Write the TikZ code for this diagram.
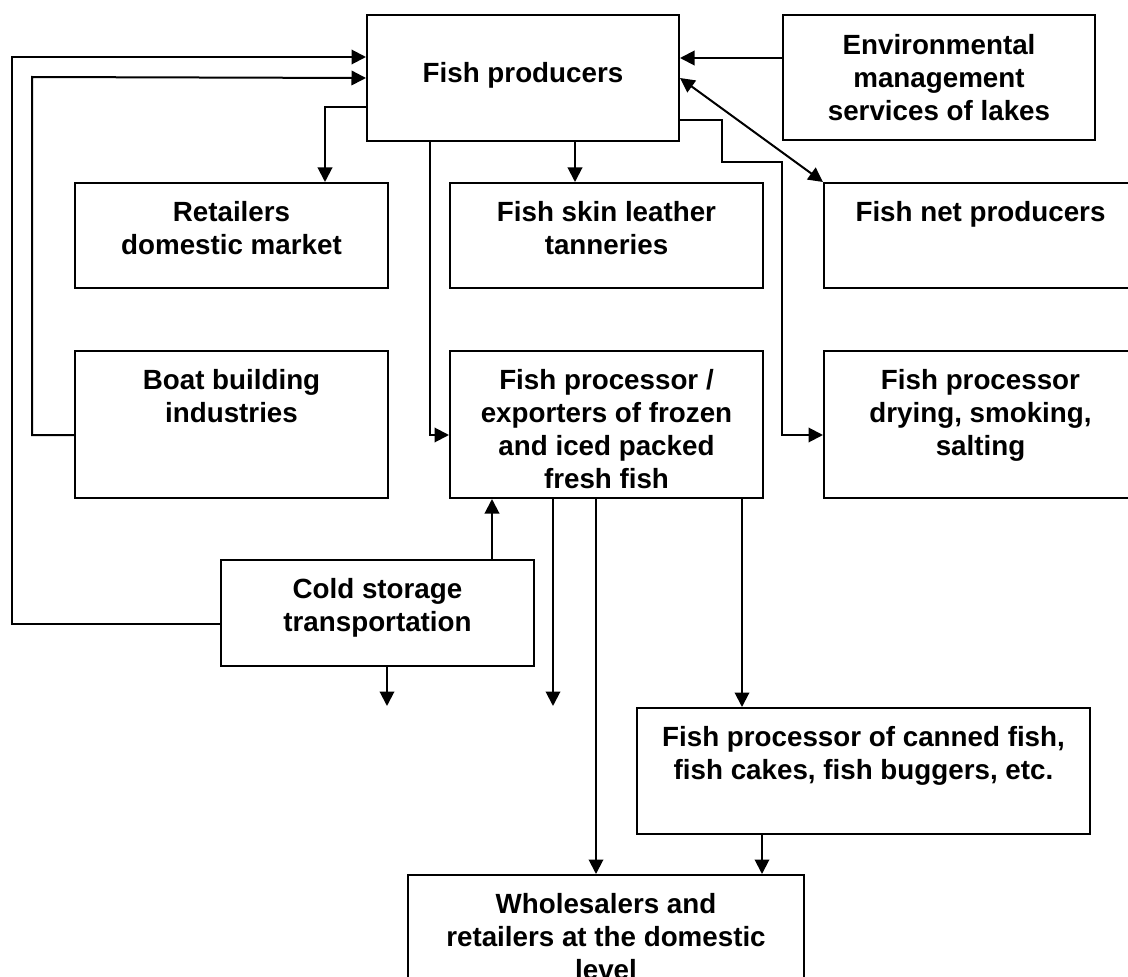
\documentclass[tikz,border=0pt]{standalone}
\usepackage{fontspec}
\setmainfont{Liberation Sans}
\usetikzlibrary{arrows.meta}

\begin{document}
\begin{tikzpicture}[x=0.2mm,y=-0.2mm,line width=0.4mm,
        >={Triangle[length=2.9mm,width=2.9mm]},
        box/.style={draw,anchor=north west,minimum width=62.6mm,inner sep=0pt},
        txt/.style={anchor=north,align=center,inner sep=0pt,
            font=\bfseries\fontsize{15.8pt}{18.8pt}\selectfont}]
    \useasboundingbox (0,0) rectangle (1128,977);
    % boxes, top left corners in pixel units
    \node[box,minimum width=62.4mm,minimum height=25.2mm] (prod) at (366,14) {};
    \node[box,minimum width=62.4mm,minimum height=25mm] (env) at (782,14) {};
    \node[box,minimum height=21mm] (retail) at (74,182) {};
    \node[box,minimum height=21mm] (tann) at (449,182) {};
    \node[box,minimum height=21mm] (net) at (823,182) {};
    \node[box,minimum height=29.4mm] (boat) at (74,350) {};
    \node[box,minimum height=29.4mm] (proc) at (449,350) {};
    \node[box,minimum height=29.4mm] (dry) at (823,350) {};
    \node[box,minimum height=21.2mm] (cold) at (220,559) {};
    \node[box,minimum width=90.6mm,minimum height=25.2mm] (can) at (636,707) {};
    \node[box,minimum width=79.2mm,minimum height=29.4mm] (whole) at (407,874) {};
    % texts
    \node[txt,anchor=center] (prod-t) at ([yshift=0.6mm]prod.center) {Fish producers};
    \node[txt,anchor=center] (env-t) at (env.center) {Environmental\\management\\services of lakes};
    \node[txt] (retail-t) at ([yshift=-3.6mm]retail.north) {Retailers\\domestic market};
    \node[txt] (tann-t) at ([yshift=-3.6mm]tann.north) {Fish skin leather\\tanneries};
    \node[txt] (net-t) at ([yshift=-3.6mm]net.north) {Fish net producers};
    \node[txt] (boat-t) at ([yshift=-3.6mm]boat.north) {Boat building\\industries};
    \node[txt] (proc-t) at ([yshift=-3.6mm]proc.north) {Fish processor /\\exporters of frozen\\and iced packed\\fresh fish};
    \node[txt] (dry-t) at ([yshift=-3.6mm]dry.north) {Fish processor\\drying, smoking,\\salting};
    \node[txt] (cold-t) at ([yshift=-3.6mm]cold.north) {Cold storage\\transportation};
    \node[txt] (can-t) at ([yshift=-3.6mm]can.north) {Fish processor of canned fish,\\fish cakes, fish buggers, etc.};
    \node[txt] (whole-t) at ([yshift=-3.6mm]whole.north) {Wholesalers and\\retailers at the domestic\\level};
    % bends and loose ends
    \coordinate (outer) at (12,57);
    \coordinate (inner) at (32,77);
    \coordinate (end1) at (387,706);
    \coordinate (end2) at (553,706);
    % links back to the producers
    \draw[->] ([yshift=-2.2mm]cold.west) -| (outer) -- (outer -| prod.west);
    \draw[->] ([yshift=-2.1mm]boat.west) -| (inner) -- (prod.west);
    \draw[->] ([yshift=3.9mm]env.west) coordinate (e1) -- (e1 -| prod.east);
    \draw[<->] (prod.east) -- (net.north west);
    % out of the producers
    \draw[->] ([yshift=-5.7mm]prod.west) -| ([xshift=18.7mm]retail.north);
    \draw[->] ([xshift=10.4mm]prod.south) coordinate (p1) -- (p1 |- tann.north);
    \draw[->] ([xshift=-18.6mm]prod.south) |- ([yshift=-2.1mm]proc.west);
    \draw[->] ([yshift=-8.4mm]prod.east) -| ++(42,42)
        -| ([xshift=-8.2mm,yshift=-2.1mm]dry.west) -- ([yshift=-2.1mm]dry.west);
    % cold storage
    \draw[->] ([xshift=22.9mm]cold.north) coordinate (c1) -- (c1 |- proc.south);
    \draw[->] (end1 |- cold.south) -- (end1);
    % out of the processor
    \draw[->] (end2 |- proc.south) -- (end2);
    \draw[->] ([xshift=-2.1mm]proc.south) coordinate (p2) -- (p2 |- whole.north);
    \draw[->] ([xshift=27.1mm]proc.south) coordinate (p3) -- (p3 |- can.north);
    \draw[->] ([xshift=-20.3mm]can.south) coordinate (p4) -- (p4 |- whole.north);
\end{tikzpicture}
\end{document}
